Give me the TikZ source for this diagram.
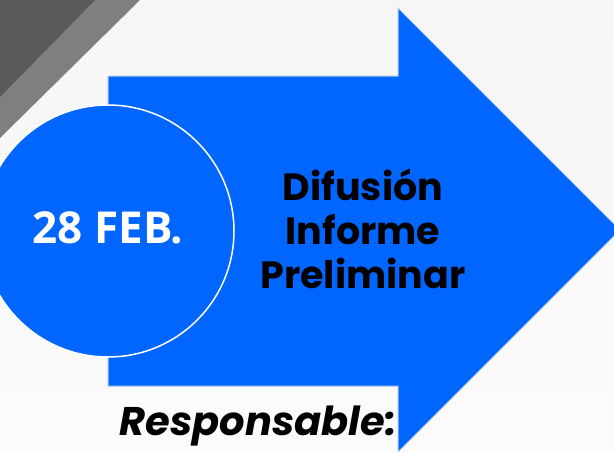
\documentclass[tikz,border=0pt]{standalone}
\usepackage{fontspec}
\setmainfont{Poppins}
\newfontfamily\datefont{Open Sans}
\definecolor{arrowblue}{HTML}{0066FF}
\definecolor{arrowedge}{HTML}{A9C6DF}
\definecolor{bandlight}{HTML}{7F7F7F}
\definecolor{banddark}{HTML}{5A5A5A}
\tikzset{
  datetext/.style={text=white, font=\datefont\bfseries\fontsize{44}{48}\selectfont},
  titletext/.style={text=black, align=center, font=\bfseries\fontsize{38}{44}\selectfont},
}
\begin{document}
\begin{tikzpicture}[x=1pt, y=-1pt]
  \useasboundingbox (0,0) rectangle (614,451);
  \shade[top color=gray!7, bottom color=gray!3] (0,0) rectangle (614,451);

  % corner bands
  \fill[bandlight] (0,0) -- (140,0) -- (0,138) -- cycle;
  \fill[banddark] (0,0) -- (95,0) -- (0,97) -- cycle;

  % big arrow
  \begin{scope}
    \clip (0,0) rectangle (614,451);
    \draw[fill=arrowblue, draw=arrowedge, line width=1pt]
      (108,76) -- (398,76) -- (398,8) -- (620,230) -- (398,452)
      -- (398,386) -- (108,386) -- cycle;
  \end{scope}

  % date circle
  \node[
  circle,
  draw=white,
  line width=1.5pt,
  fill=arrowblue,
  minimum size=252pt,
  ] (c) at (108,231) {};

  \node[datetext] (d) at (108,228) {28 FEB.};

  \node[titletext] (t) at (363,229) {Difusión\\Informe\\Preliminar};

  \node[font=\bfseries\itshape\fontsize{40}{44}\selectfont] (r) at (258,426) {Responsable:};
\end{tikzpicture}
\end{document}
